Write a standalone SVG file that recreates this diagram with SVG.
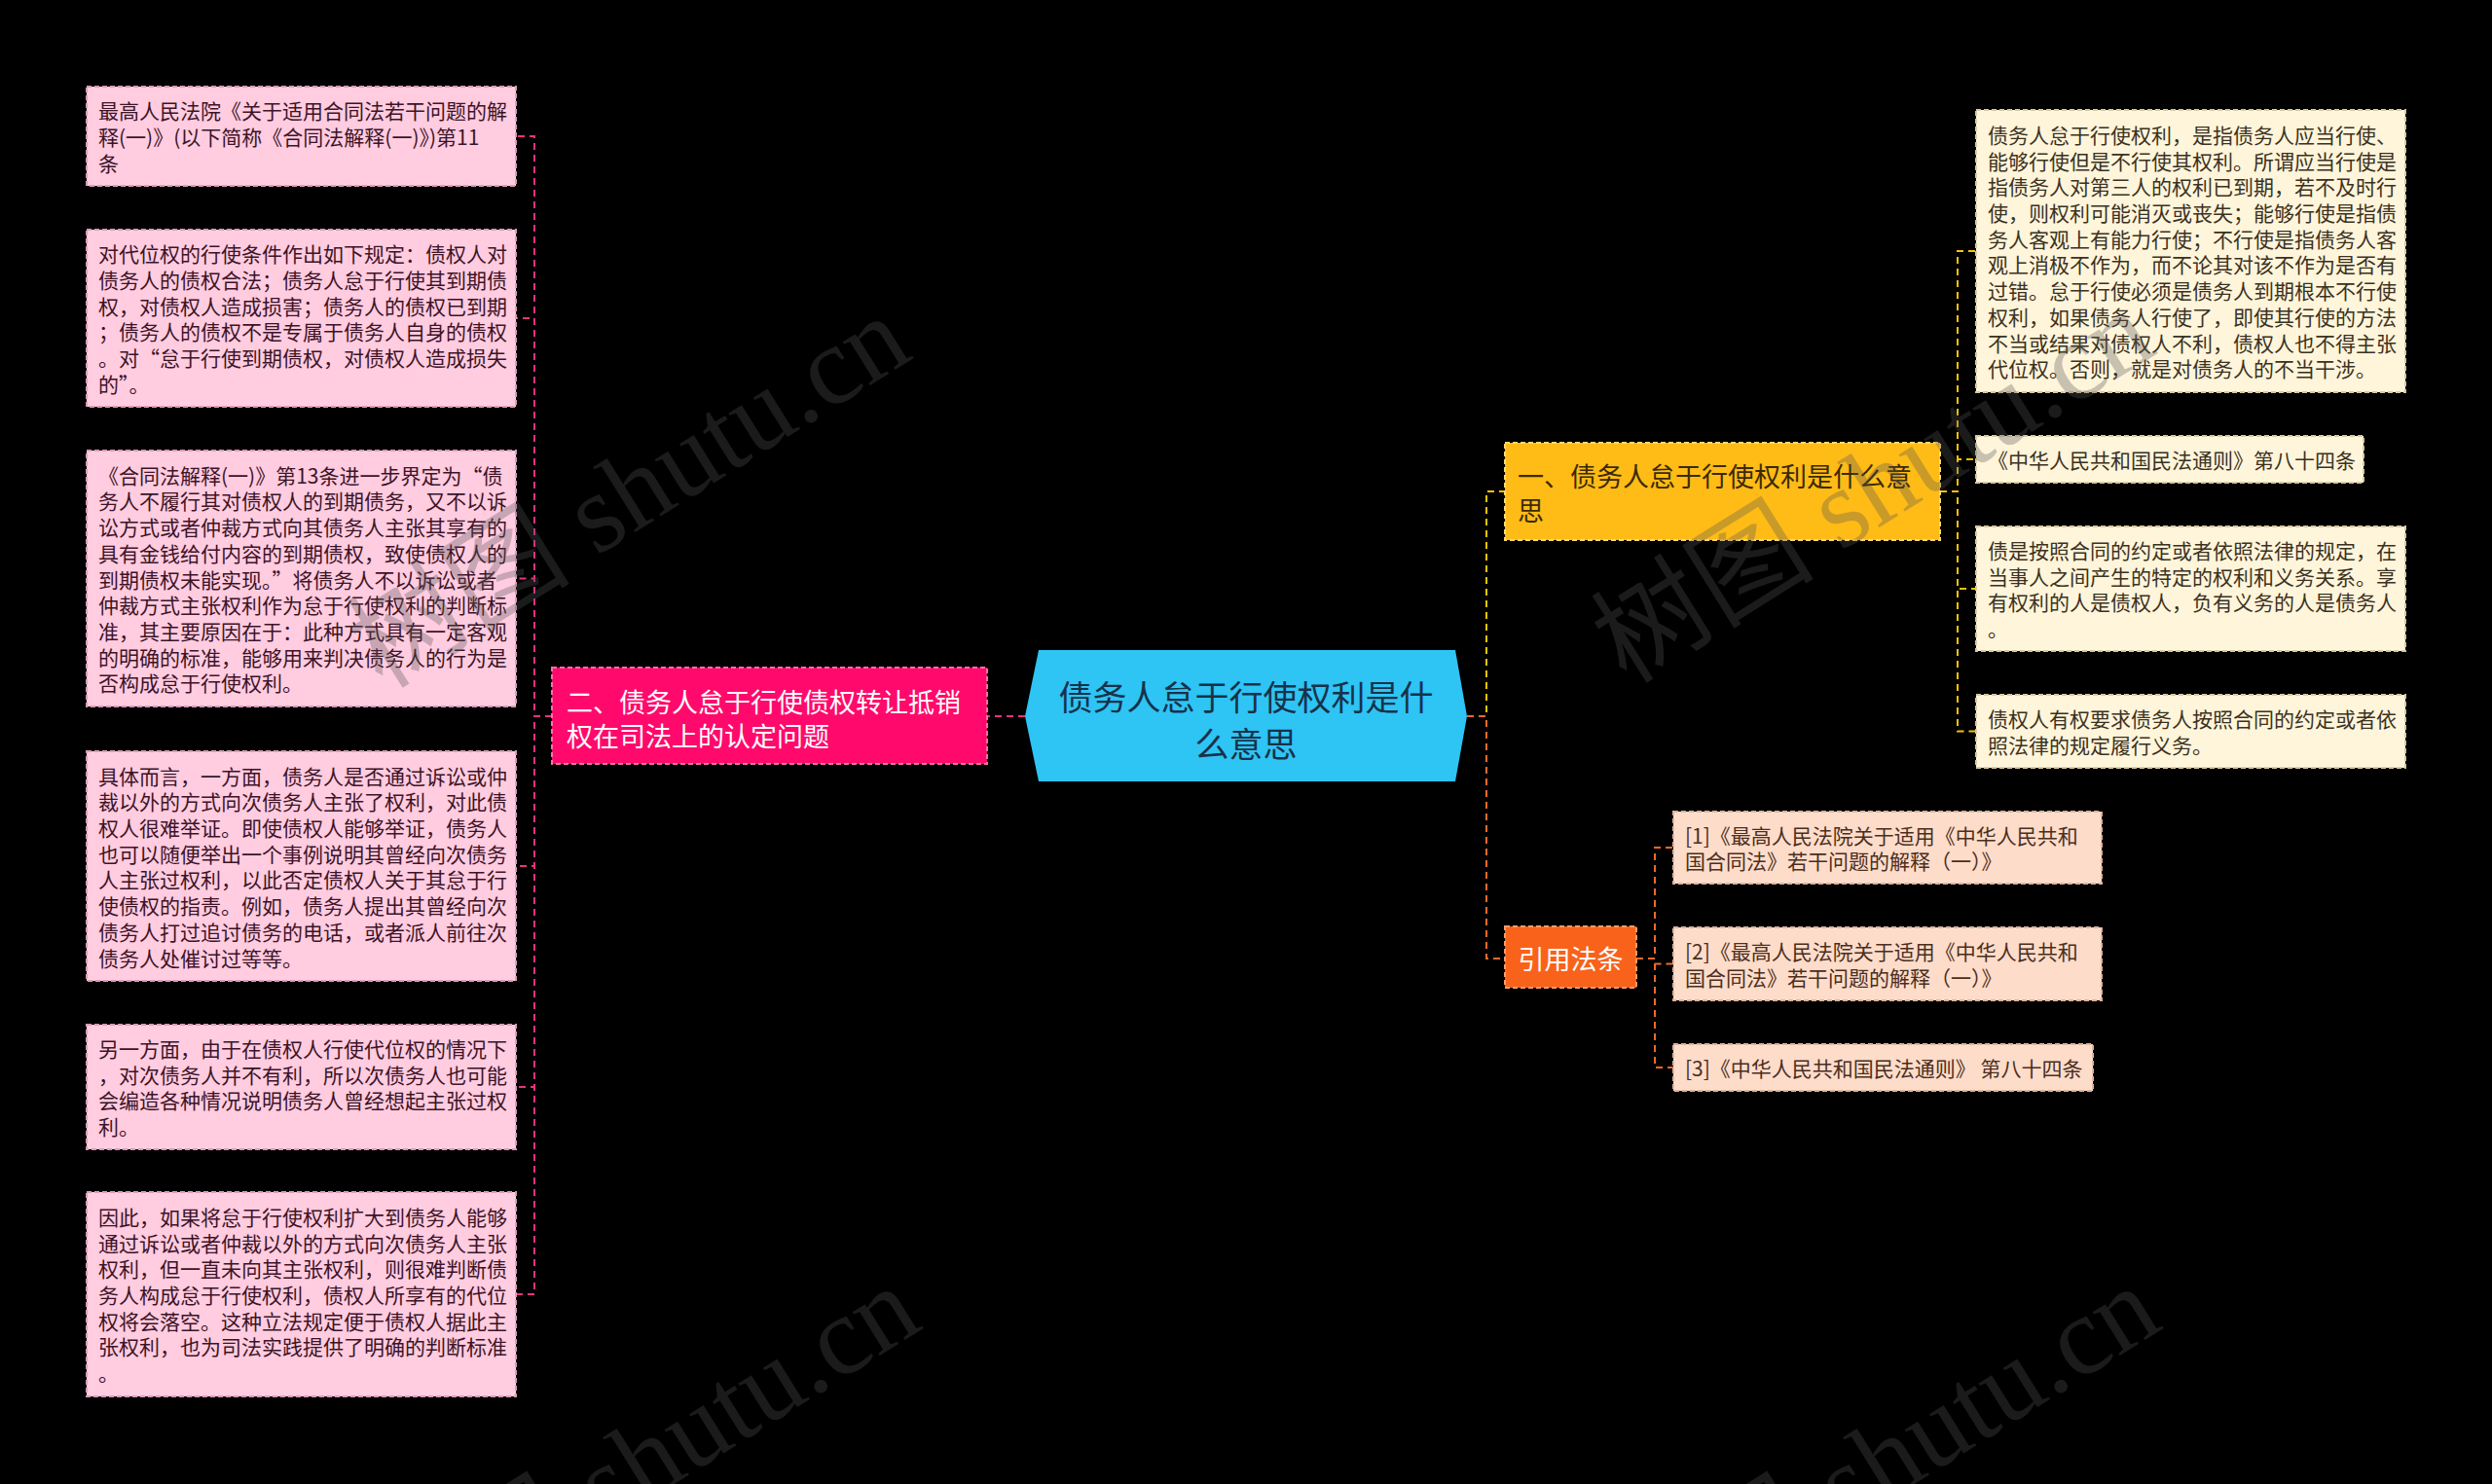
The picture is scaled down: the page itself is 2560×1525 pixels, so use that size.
<svg xmlns="http://www.w3.org/2000/svg" width="2560" height="1525" viewBox="0 0 2560 1525">
<style>
text { font-family: "Noto Sans CJK SC", "Noto Sans", sans-serif; dominant-baseline: central; }
.pk rect { fill:#FFCCE0; stroke:#D99CB6; stroke-width:2; stroke-dasharray:5 3; }
.pk text { fill:#3d1326; font-size:21px; }
.cr rect { fill:#FFF5DA; stroke:#D8C9A0; stroke-width:2; stroke-dasharray:5 3; }
.cr text { fill:#3b3122; font-size:21px; }
.pc rect { fill:#FDDCCA; stroke:#DDB39C; stroke-width:2; stroke-dasharray:5 3; }
.pc text { fill:#4b2e20; font-size:21px; }
.mg rect { fill:#FF0A6C; stroke:#FF6FA6; stroke-width:2; stroke-dasharray:5 3; }
.mg text { fill:#ffffff; font-size:27px; }
.yl rect { fill:#FFBB16; stroke:#FFD870; stroke-width:2; stroke-dasharray:5 3; }
.yl text { fill:#3a2a05; font-size:27px; }
.or rect { fill:#F9621A; stroke:#FF9A66; stroke-width:2; stroke-dasharray:5 3; }
.or text { fill:#ffffff; font-size:27px; }
.root polygon { fill:#2EC4F4; }
.root text { fill:#17324a; font-size:35px; }
.c { fill:none; stroke-width:2; stroke-dasharray:7 5; }
.cp { stroke:#E8337F; }
.cy { stroke:#F5C400; }
.co { stroke:#EE6A2A; }
.wm { font-family:"Liberation Serif", "Noto Sans CJK SC", serif; font-size:115px; fill:#545454; fill-opacity:0.32; dominant-baseline:auto; }
</style>
<rect x="0" y="0" width="2560" height="1525" fill="#000000"/>

<g id="connectors">
  <path class="c cp" d="M1053,736 H1014"/>
  <path class="c cp" d="M567,736 H549 V140 H530"/>
  <path class="c cp" d="M567,736 H549 V327 H530"/>
  <path class="c cp" d="M567,736 H549 V594.5 H530"/>
  <path class="c cp" d="M567,736 H549 V890 H530"/>
  <path class="c cp" d="M567,736 H549 V1117 H530"/>
  <path class="c cp" d="M567,736 H549 V1330 H530"/>
  <path class="c cy" d="M1507,736 H1527 V505 H1546"/>
  <path class="c co" d="M1507,736 H1527 V985 H1546"/>
  <path class="c cy" d="M1993,505 H2011 V258 H2030"/>
  <path class="c cy" d="M1993,505 H2011 V472 H2030"/>
  <path class="c cy" d="M1993,505 H2011 V605 H2030"/>
  <path class="c cy" d="M1993,505 H2011 V751.5 H2030"/>
  <path class="c co" d="M1681,985 H1700 V871 H1719"/>
  <path class="c co" d="M1681,985 H1700 V990.5 H1719"/>
  <path class="c co" d="M1681,985 H1700 V1097 H1719"/>
</g>

<g id="root" class="root">
  <polygon points="1053,736 1067,668 1495,668 1507,736 1495,803 1067,803"/>
  <text x="1280" y="714" text-anchor="middle">债务人怠于行使权利是什</text>
  <text x="1280" y="762" text-anchor="middle">么意思</text>
</g>

<g id="n-left" class="mg">
  <rect x="567" y="686" width="447" height="99"/>
  <text x="582" y="720">二、债务人怠于行使债权转让抵销</text>
  <text x="582" y="755">权在司法上的认定问题</text>
</g>

<g id="n-right" class="yl">
  <rect x="1546" y="455" width="447" height="100"/>
  <text x="1559" y="488">一、债务人怠于行使权利是什么意</text>
  <text x="1559" y="523">思</text>
</g>

<g id="n-ref" class="or">
  <rect x="1546" y="952" width="135" height="63"/>
  <text x="1613.5" y="984" text-anchor="middle">引用法条</text>
</g>

<g id="l1" class="pk">
  <rect x="89" y="89" width="441" height="102"/>
  <text x="101" y="113.3">最高人民法院《关于适用合同法若干问题的解</text>
  <text x="101" y="140">释(一)》(以下简称《合同法解释(一)》)第11</text>
  <text x="101" y="166.7">条</text>
</g>

<g id="l2" class="pk">
  <rect x="89" y="236" width="441" height="182"/>
  <text x="101" y="260.3">对代位权的行使条件作出如下规定：债权人对</text>
  <text x="101" y="287">债务人的债权合法；债务人怠于行使其到期债</text>
  <text x="101" y="313.7">权，对债权人造成损害；债务人的债权已到期</text>
  <text x="101" y="340.4">；债务人的债权不是专属于债务人自身的债权</text>
  <text x="101" y="367.1">。对“怠于行使到期债权，对债权人造成损失</text>
  <text x="101" y="393.8">的”。</text>
</g>

<g id="l3" class="pk">
  <rect x="89" y="463" width="441" height="263"/>
  <text x="101" y="487.7">《合同法解释(一)》第13条进一步界定为“债</text>
  <text x="101" y="514.4">务人不履行其对债权人的到期债务，又不以诉</text>
  <text x="101" y="541.1">讼方式或者仲裁方式向其债务人主张其享有的</text>
  <text x="101" y="567.8">具有金钱给付内容的到期债权，致使债权人的</text>
  <text x="101" y="594.5">到期债权未能实现。”将债务人不以诉讼或者</text>
  <text x="101" y="621.2">仲裁方式主张权利作为怠于行使权利的判断标</text>
  <text x="101" y="647.9">准，其主要原因在于：此种方式具有一定客观</text>
  <text x="101" y="674.6">的明确的标准，能够用来判决债务人的行为是</text>
  <text x="101" y="701.3">否构成怠于行使权利。</text>
</g>

<g id="l4" class="pk">
  <rect x="89" y="772" width="441" height="236"/>
  <text x="101" y="796.6">具体而言，一方面，债务人是否通过诉讼或仲</text>
  <text x="101" y="823.3">裁以外的方式向次债务人主张了权利，对此债</text>
  <text x="101" y="850">权人很难举证。即使债权人能够举证，债务人</text>
  <text x="101" y="876.7">也可以随便举出一个事例说明其曾经向次债务</text>
  <text x="101" y="903.4">人主张过权利，以此否定债权人关于其怠于行</text>
  <text x="101" y="930.1">使债权的指责。例如，债务人提出其曾经向次</text>
  <text x="101" y="956.8">债务人打过追讨债务的电话，或者派人前往次</text>
  <text x="101" y="983.5">债务人处催讨过等等。</text>
</g>

<g id="l5" class="pk">
  <rect x="89" y="1053" width="441" height="128"/>
  <text x="101" y="1077">另一方面，由于在债权人行使代位权的情况下</text>
  <text x="101" y="1103.7">，对次债务人并不有利，所以次债务人也可能</text>
  <text x="101" y="1130.4">会编造各种情况说明债务人曾经想起主张过权</text>
  <text x="101" y="1157.1">利。</text>
</g>

<g id="l6" class="pk">
  <rect x="89" y="1225" width="441" height="210"/>
  <text x="101" y="1249.9">因此，如果将怠于行使权利扩大到债务人能够</text>
  <text x="101" y="1276.6">通过诉讼或者仲裁以外的方式向次债务人主张</text>
  <text x="101" y="1303.3">权利，但一直未向其主张权利，则很难判断债</text>
  <text x="101" y="1330">务人构成怠于行使权利，债权人所享有的代位</text>
  <text x="101" y="1356.7">权将会落空。这种立法规定便于债权人据此主</text>
  <text x="101" y="1383.4">张权利，也为司法实践提供了明确的判断标准</text>
  <text x="101" y="1410.1">。</text>
</g>

<g id="r1" class="cr">
  <rect x="2030" y="113" width="441" height="290"/>
  <text x="2042" y="137.9">债务人怠于行使权利，是指债务人应当行使、</text>
  <text x="2042" y="164.6">能够行使但是不行使其权利。所谓应当行使是</text>
  <text x="2042" y="191.3">指债务人对第三人的权利已到期，若不及时行</text>
  <text x="2042" y="218">使，则权利可能消灭或丧失；能够行使是指债</text>
  <text x="2042" y="244.7">务人客观上有能力行使；不行使是指债务人客</text>
  <text x="2042" y="271.4">观上消极不作为，而不论其对该不作为是否有</text>
  <text x="2042" y="298.1">过错。怠于行使必须是债务人到期根本不行使</text>
  <text x="2042" y="324.8">权利，如果债务人行使了，即使其行使的方法</text>
  <text x="2042" y="351.5">不当或结果对债权人不利，债权人也不得主张</text>
  <text x="2042" y="378.2">代位权。否则，就是对债务人的不当干涉。</text>
</g>

<g id="r2" class="cr">
  <rect x="2030" y="448" width="398" height="48"/>
  <text x="2042" y="472">《中华人民共和国民法通则》第八十四条</text>
</g>

<g id="r3" class="cr">
  <rect x="2030" y="541" width="441" height="128"/>
  <text x="2042" y="565">债是按照合同的约定或者依照法律的规定，在</text>
  <text x="2042" y="591.7">当事人之间产生的特定的权利和义务关系。享</text>
  <text x="2042" y="618.4">有权利的人是债权人，负有义务的人是债务人</text>
  <text x="2042" y="645.1">。</text>
</g>

<g id="r4" class="cr">
  <rect x="2030" y="714" width="441" height="75"/>
  <text x="2042" y="738.2">债权人有权要求债务人按照合同的约定或者依</text>
  <text x="2042" y="764.9">照法律的规定履行义务。</text>
</g>

<g id="f1" class="pc">
  <rect x="1719" y="834" width="440" height="74"/>
  <text x="1731" y="857.7">[1]《最高人民法院关于适用《中华人民共和</text>
  <text x="1731" y="884.4">国合同法》若干问题的解释（一）》</text>
</g>

<g id="f2" class="pc">
  <rect x="1719" y="953" width="440" height="75"/>
  <text x="1731" y="977.2">[2]《最高人民法院关于适用《中华人民共和</text>
  <text x="1731" y="1003.9">国合同法》若干问题的解释（一）》</text>
</g>

<g id="f3" class="pc">
  <rect x="1719" y="1073" width="431" height="48"/>
  <text x="1731" y="1097">[3]《中华人民共和国民法通则》 第八十四条</text>
</g>

<g id="watermarks">
  <text class="wm" transform="translate(393,709) rotate(-32)">树图 shutu.cn</text>
  <text class="wm" transform="translate(1671,704) rotate(-32)">树图 shutu.cn</text>
  <text class="wm" transform="translate(403,1706) rotate(-32)">树图 shutu.cn</text>
  <text class="wm" transform="translate(1677,1706) rotate(-32)">树图 shutu.cn</text>
</g>
</svg>
